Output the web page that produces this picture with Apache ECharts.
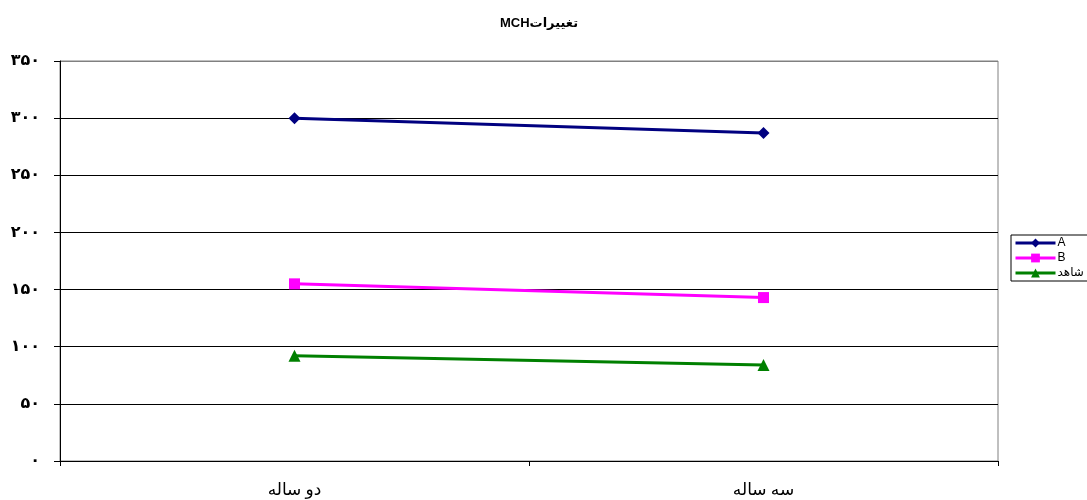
<!DOCTYPE html>
<html>
<head>
<meta charset="utf-8">
<script src="https://cdn.jsdelivr.net/npm/echarts@6/dist/echarts.min.js"></script>
<style>html,body{margin:0;padding:0;background:#fff;}#c{width:1087px;height:500px;}</style>
</head>
<body>
<div id="c"></div>
<script>
const categories = ['دو ساله', 'سه ساله'];
const seriesNames = ['A', 'B', 'شاهد'];
const valuesA = [300, 287];
const valuesB = [155, 143];
const valuesControl = [92, 84];
const yTickLabels = {0:'۰',50:'۵۰',100:'۱۰۰',150:'۱۵۰',200:'۲۰۰',250:'۲۵۰',300:'۳۰۰',350:'۳۵۰'};
const titleText = '\u202Bتغییرات' + 'MCH\u202C';

const chart = echarts.init(document.getElementById('c'));
const serifFont = '"Liberation Serif", "DejaVu Sans", serif';
chart.setOption({
  animation: false,
  backgroundColor: '#fff',
  title: {
    text: titleText,
    left: 534, top: 12, textAlign: 'center',
    textStyle: {fontFamily: 'Liberation Sans, DejaVu Sans, sans-serif', fontSize: 13, fontWeight: 'bold', color: '#000'}
  },
  legend: {
    orient: 'vertical', left: 1011, top: 235,
    itemWidth: 40, itemHeight: 11, itemGap: 3,
    padding: [2, 20, 2, 3],
    borderColor: '#000', borderWidth: 1, borderRadius: 0,
    lineStyle: {width: 3},
    textStyle: {fontFamily: 'Liberation Sans, DejaVu Sans, sans-serif', fontSize: 12, color: '#000', padding: [0,0,0,-3]},
    data: seriesNames
  },
  grid: {left: 60, right: 89, top: 61, bottom: 39, show: true, borderColor: '#808080', borderWidth: 1, backgroundColor: 'transparent'},
  xAxis: {
    type: 'category', data: categories, boundaryGap: true,
    axisLine: {lineStyle: {color: '#000', width: 1}},
    axisTick: {show: true, length: 5, lineStyle: {color: '#000'}},
    axisLabel: {margin: 21, fontFamily: serifFont, fontSize: 17, color: '#000'}
  },
  yAxis: {
    type: 'value', min: 0, max: 350, interval: 50,
    axisLine: {show: true, lineStyle: {color: '#000', width: 1}},
    axisTick: {show: true, length: 6, lineStyle: {color: '#000'}},
    splitLine: {lineStyle: {color: ['#000','#000','#000','#000','#000','#000','#000','#808080'], width: 1}},
    axisLabel: {margin: 20, fontFamily: serifFont, fontSize: 16, fontWeight: 'bold', color: '#000',
      formatter: v => yTickLabels[v]}
  },
  series: [
    {name: seriesNames[0], type: 'line', data: valuesA, color: '#000080', symbol: 'diamond', symbolSize: 12, lineStyle: {width: 3}, itemStyle:{color:'#000080'}},
    {name: seriesNames[1], type: 'line', data: valuesB, color: '#FF00FF', symbol: 'rect', symbolSize: 11, lineStyle: {width: 3}, itemStyle:{color:'#FF00FF'}},
    {name: seriesNames[2], type: 'line', data: valuesControl, color: '#008000', symbol: 'triangle', symbolSize: 12, lineStyle: {width: 3}, itemStyle:{color:'#008000'}}
  ]
});
</script>
</body>
</html>
